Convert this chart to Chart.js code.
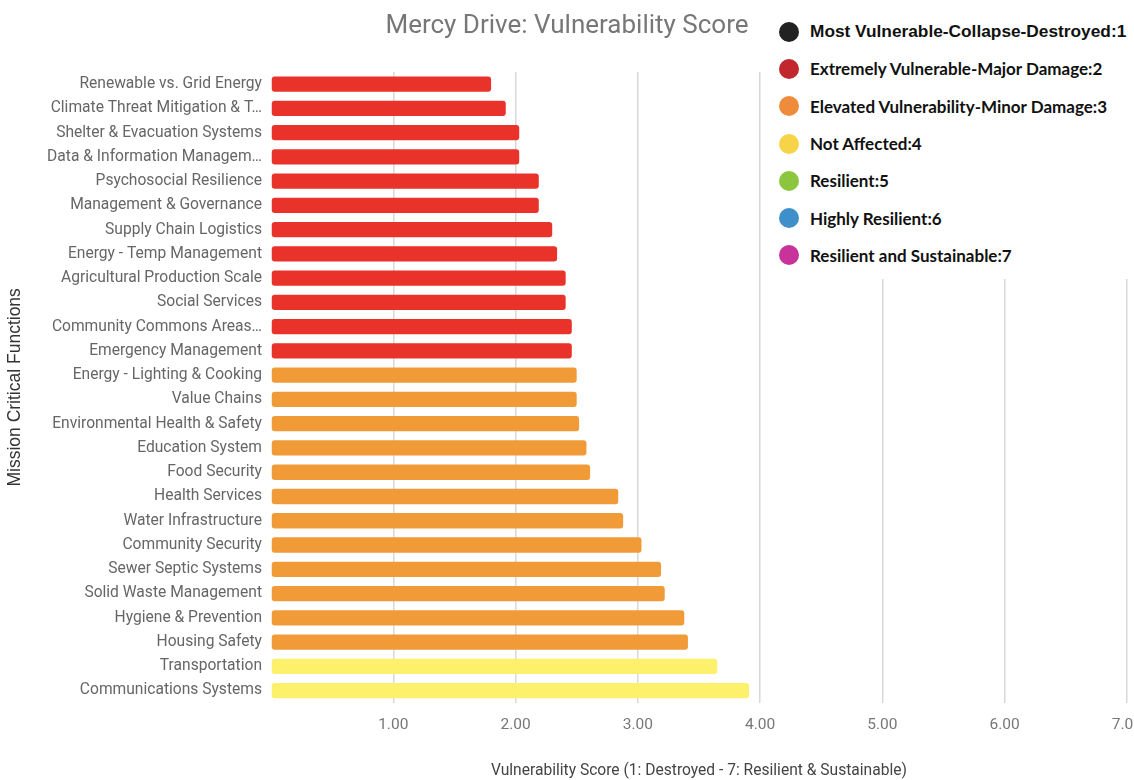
<!DOCTYPE html>
<html>
<head>
<meta charset="utf-8">
<script src="https://cdn.jsdelivr.net/npm/chart.js@4/dist/chart.umd.min.js"></script>
<style>
  html, body { margin: 0; padding: 0; background: #fff; overflow: hidden; }
  #wrap { position: absolute; left: 0; top: 0; width: 1155px; height: 780px; }
  #titulo {
    position: absolute; left: 0; top: 8px; width: 1134px; text-align: center;
    font-family: Roboto, sans-serif; font-size: 26px; color: #777; line-height: 32px;
  }
  #legenda {
    position: absolute; left: 776px; top: 13px; width: 358px; height: 266px;
    background: #fff; font-family: Lato, sans-serif; font-weight: bold; font-size: 17px; color: #111;
  }
  .item { height: 37.3px; display: flex; align-items: center; }
  .bola { width: 20px; height: 20px; border-radius: 50%; margin-left: 3px; margin-right: 11px; flex: none; }
  .item.primeiro { font-family: "Liberation Sans", Arial, sans-serif; font-size: 17.3px; }
</style>
</head>
<body>
<div id="wrap"><canvas id="grafico"></canvas></div>
<div id="titulo">Mercy Drive: Vulnerability Score</div>
<div id="legenda"></div>
<script>
// funções críticas (de cima para baixo)
const categorias = [
  'Renewable vs. Grid Energy',
  'Climate Threat Mitigation & T…',
  'Shelter & Evacuation Systems',
  'Data & Information Managem…',
  'Psychosocial Resilience',
  'Management & Governance',
  'Supply Chain Logistics',
  'Energy - Temp Management',
  'Agricultural Production Scale',
  'Social Services',
  'Community Commons Areas…',
  'Emergency Management',
  'Energy - Lighting & Cooking',
  'Value Chains',
  'Environmental Health & Safety',
  'Education System',
  'Food Security',
  'Health Services',
  'Water Infrastructure',
  'Community Security',
  'Sewer Septic Systems',
  'Solid Waste Management',
  'Hygiene & Prevention',
  'Housing Safety',
  'Transportation',
  'Communications Systems'
];

const pontuacoes = [
  1.80, 1.92, 2.03, 2.03, 2.19, 2.19, 2.30, 2.34, 2.41, 2.41, 2.46, 2.46, 2.50,
  2.50, 2.52, 2.58, 2.61, 2.84, 2.88, 3.03, 3.19, 3.22, 3.38, 3.41, 3.65, 3.91
];

const ticksX = [1, 2, 3, 4, 5, 6, 7];

const legendaTextos = [
  'Most Vulnerable-Collapse-Destroyed:1',
  'Extremely Vulnerable-Major Damage:2',
  'Elevated Vulnerability-Minor Damage:3',
  'Not Affected:4',
  'Resilient:5',
  'Highly Resilient:6',
  'Resilient and Sustainable:7'
];
const legendaCores = ['#222222', '#c1272d', '#ef8c3b', '#f7d347', '#8cc63f', '#3f8fcb', '#c8329b'];

// cor das barras por nível (arredondado)
const coresBarras = { 1: '#222222', 2: '#e8322a', 3: '#f09b38', 4: '#fdf06b', 5: '#8cc63f', 6: '#3f8fcb', 7: '#c8329b' };

// Monta legenda em HTML por cima do gráfico
function montarLegenda() {
  const box = document.getElementById('legenda');
  legendaTextos.forEach((t, i) => {
    const div = document.createElement('div');
    div.className = 'item' + (i === 0 ? ' primeiro' : '');
    div.innerHTML = `<span class="bola" style="background:${legendaCores[i]}"></span><span>${t}</span>`;
    box.appendChild(div);
  });
}

let chart;
function criarGrafico() {
  const ctx = document.getElementById('grafico').getContext('2d');
  chart = new Chart(ctx, {
    type: 'bar',
    data: {
      labels: categorias,
      datasets: [{
        label: 'Vulnerability Score',
        data: pontuacoes,
        backgroundColor: pontuacoes.map((v) => coresBarras[Math.round(v)]),
        borderRadius: 3,
        borderSkipped: false,
        barPercentage: 0.63,
        categoryPercentage: 1
      }]
    },
    options: {
      indexAxis: 'y',
      responsive: true,
      maintainAspectRatio: false,
      animation: false,
      // título fica no HTML (centrado na janela), aqui só reserva o espaço
      layout: { padding: { left: 0, top: 72, bottom: 0 } },
      plugins: {
        legend: { display: false },
        tooltip: { enabled: false },
        title: { display: false }
      },
      scales: {
        x: {
          min: 0,
          max: 7,
          afterBuildTicks: (scale) => { scale.ticks = [0].concat(ticksX).map((v) => ({ value: v })); },
          ticks: {
            color: '#777777',
            font: { family: 'Roboto', size: 15.5 },
            padding: 13,
            maxRotation: 0,
            callback: (v) => (v === 0 ? '' : Number(v).toFixed(2))
          },
          grid: {
            drawTicks: false,
            color: (c) => (c.tick && c.tick.value === 0 ? 'rgba(0,0,0,0)' : '#d8d8d8'),
            lineWidth: 1.5
          },
          border: { display: false },
          title: {
            display: true,
            text: 'Vulnerability Score (1: Destroyed - 7: Resilient & Sustainable)',
            color: '#444444',
            font: { family: 'Roboto', size: 15.6 },
            padding: { top: 14, bottom: 0 }
          }
        },
        y: {
          afterFit: (scale) => { scale.width = 271; },
          ticks: {
            color: '#666666',
            font: { family: 'Roboto', size: 15.6 },
            padding: 9,
            autoSkip: false
          },
          grid: { display: false, drawTicks: false },
          border: { display: false },
          title: {
            display: true,
            text: 'Mission Critical Functions',
            color: '#333333',
            font: { family: 'Liberation Sans', size: 17.5 },
            padding: { top: 5, bottom: 0 }
          }
        }
      }
    }
  });
}

montarLegenda();
criarGrafico();
</script>
</body>
</html>
